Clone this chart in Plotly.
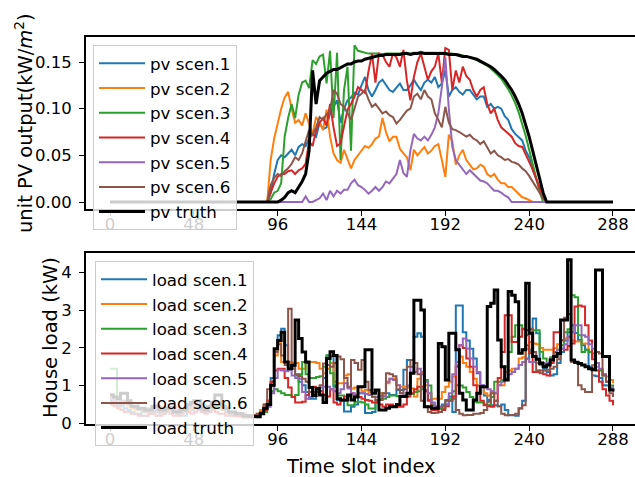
import plotly.graph_objects as go

# ---------------- data ----------------
SLOTS = list(range(0, 289, 2))          # time slot index (every 2nd slot)
X_TICKS = [0, 48, 96, 144, 192, 240, 288]
PV_TICKS = [0.0, 0.05, 0.10, 0.15]
PV_TICK_TEXT = ["0.00", "0.05", "0.10", "0.15"]
LOAD_TICKS = [0, 1, 2, 3, 4]

# PV daytime readings (kW/m2); start slot given, zero at night
pv1_start = 90
pv1_day = [0.0, 0.01, 0.03, 0.045, 0.05, 0.048, 0.052, 0.056, 0.05, 0.059, 0.062, 0.06,
           0.068, 0.073, 0.07, 0.085, 0.078, 0.08, 0.095, 0.102, 0.109, 0.085, 0.1, 0.109,
           0.112, 0.117, 0.115, 0.125, 0.134, 0.12, 0.113, 0.12, 0.128, 0.131, 0.125, 0.12,
           0.118, 0.123, 0.127, 0.12, 0.12, 0.125, 0.131, 0.125, 0.12, 0.128, 0.131, 0.128,
           0.134, 0.123, 0.127, 0.141, 0.113, 0.12, 0.123, 0.118, 0.115, 0.12, 0.12, 0.115,
           0.11, 0.113, 0.113, 0.102, 0.105, 0.1, 0.102, 0.1, 0.092, 0.088, 0.078, 0.073,
           0.07, 0.066, 0.055, 0.048, 0.035, 0.026, 0.015, 0.005, 0.0]
pv2_start = 90
pv2_day = [0.0, 0.045, 0.068, 0.084, 0.1, 0.112, 0.118, 0.1, 0.085, 0.088, 0.082, 0.095,
           0.085, 0.073, 0.091, 0.085, 0.077, 0.099, 0.07, 0.052, 0.045, 0.042, 0.056, 0.045,
           0.036, 0.045, 0.05, 0.055, 0.06, 0.058, 0.062, 0.068, 0.07, 0.09, 0.075, 0.065,
           0.07, 0.07, 0.057, 0.052, 0.048, 0.034, 0.056, 0.05, 0.055, 0.059, 0.052, 0.055,
           0.06, 0.062, 0.045, 0.027, 0.072, 0.065, 0.04, 0.05, 0.056, 0.045, 0.04, 0.035,
           0.036, 0.04, 0.038, 0.03, 0.027, 0.03, 0.024, 0.02, 0.02, 0.016, 0.016, 0.012,
           0.008, 0.005, 0.004, 0.002, 0.0]
pv3_start = 92
pv3_day = [0.003, 0.01, 0.012, 0.02, 0.07, 0.09, 0.105, 0.09, 0.115, 0.128, 0.13, 0.122,
           0.152, 0.148, 0.156, 0.158, 0.127, 0.162, 0.09, 0.16, 0.045, 0.12, 0.145, 0.055,
           0.168, 0.162, 0.161, 0.16, 0.159, 0.159, 0.159, 0.159, 0.158, 0.159, 0.159, 0.159,
           0.159, 0.159, 0.16, 0.16, 0.159, 0.16, 0.16, 0.161, 0.16, 0.16, 0.16, 0.16,
           0.16, 0.16, 0.16, 0.159, 0.159, 0.158, 0.158, 0.157, 0.156, 0.155, 0.154, 0.152,
           0.15, 0.148, 0.146, 0.143, 0.14, 0.136, 0.132, 0.127, 0.121, 0.114, 0.106, 0.096,
           0.084, 0.071, 0.056, 0.041, 0.026, 0.011, 0.0]
pv4_start = 90
pv4_day = [0.0, 0.01, 0.02, 0.027, 0.03, 0.03, 0.033, 0.034, 0.03, 0.034, 0.036, 0.041,
           0.065, 0.06, 0.077, 0.085, 0.09, 0.082, 0.105, 0.08, 0.06, 0.063, 0.08, 0.099,
           0.105, 0.113, 0.123, 0.12, 0.117, 0.14, 0.159, 0.128, 0.159, 0.158, 0.15, 0.145,
           0.159, 0.155, 0.145, 0.163, 0.13, 0.109, 0.134, 0.15, 0.159, 0.145, 0.131, 0.14,
           0.145, 0.159, 0.128, 0.165, 0.163, 0.12, 0.141, 0.128, 0.145, 0.135, 0.131, 0.12,
           0.113, 0.12, 0.123, 0.105, 0.095, 0.1, 0.088, 0.08, 0.077, 0.073, 0.07, 0.063,
           0.06, 0.059, 0.05, 0.043, 0.035, 0.025, 0.015, 0.005, 0.0]
pv5_start = 110
pv5_day = [0.0, 0.006, 0.0, 0.0, 0.002, 0.004, 0.009, 0.002, 0.012, 0.006, 0.012, 0.009,
           0.013, 0.013, 0.02, 0.024, 0.018, 0.016, 0.013, 0.009, 0.012, 0.016, 0.012, 0.016,
           0.022, 0.02, 0.025, 0.03, 0.045, 0.031, 0.027, 0.055, 0.073, 0.068, 0.066, 0.07,
           0.066, 0.072, 0.08, 0.095, 0.123, 0.155, 0.1, 0.059, 0.045, 0.04, 0.036, 0.03,
           0.034, 0.03, 0.026, 0.023, 0.022, 0.02, 0.016, 0.012, 0.012, 0.01, 0.007, 0.005, 0.0]
pv6_start = 90
pv6_day = [0.0, 0.018, 0.026, 0.03, 0.028, 0.033, 0.036, 0.041, 0.048, 0.045, 0.052, 0.065,
           0.077, 0.072, 0.08, 0.091, 0.088, 0.094, 0.098, 0.12, 0.116, 0.105, 0.102, 0.095,
           0.088, 0.1, 0.113, 0.116, 0.12, 0.11, 0.102, 0.105, 0.1, 0.095, 0.097, 0.093,
           0.091, 0.084, 0.088, 0.093, 0.098, 0.1, 0.113, 0.116, 0.11, 0.12, 0.113, 0.11,
           0.095, 0.088, 0.08, 0.102, 0.085, 0.078, 0.077, 0.075, 0.072, 0.07, 0.072, 0.068,
           0.066, 0.062, 0.065, 0.058, 0.052, 0.055, 0.05, 0.048, 0.045, 0.046, 0.043, 0.042,
           0.04, 0.036, 0.033, 0.028, 0.022, 0.017, 0.011, 0.004, 0.0]
pv_truth_start = 98
pv_truth_day = [0.002, 0.005, 0.01, 0.012, 0.01, 0.016, 0.022, 0.03, 0.055, 0.141, 0.105, 0.13,
                0.134, 0.138, 0.14, 0.142, 0.142, 0.144, 0.146, 0.148, 0.148, 0.15, 0.151, 0.151,
                0.153, 0.154, 0.155, 0.156, 0.157, 0.157, 0.158, 0.158, 0.158, 0.158, 0.158, 0.159,
                0.159, 0.158, 0.159, 0.159, 0.16, 0.159, 0.159, 0.159, 0.159, 0.159, 0.159, 0.159,
                0.158, 0.158, 0.158, 0.157, 0.156, 0.156, 0.155, 0.154, 0.153, 0.151, 0.149, 0.147,
                0.145, 0.142, 0.139, 0.135, 0.131, 0.126, 0.12, 0.113, 0.105, 0.095, 0.083, 0.07,
                0.055, 0.04, 0.025, 0.01, 0.0]

# House load readings (kW), slots 0..288 every 2 slots
load1 = [0.6, 0.55, 0.5, 0.45, 0.4, 0.35, 0.3, 0.25, 0.25, 0.2, 0.2, 0.25,
         0.3, 0.3, 0.25, 0.25, 0.3, 0.35, 0.3, 0.25, 0.2, 0.2, 0.3, 0.35,
         0.4, 0.45, 0.35, 0.3, 0.3, 0.35, 0.4, 0.5, 0.35, 0.3, 0.25, 0.2,
         0.2, 0.2, 0.18, 0.18, 0.2, 0.2,
         0.2, 0.3, 0.45, 0.6, 1.2, 1.89, 2.34, 2.51, 2.07, 1.54, 1.5, 1.27,
         1.1, 1.01, 0.83, 0.65, 0.65, 0.83, 0.85, 1.2, 1.8, 1.77, 0.97, 0.62,
         0.62, 0.31, 0.31, 0.44, 0.5, 0.8, 0.8, 0.27, 0.27, 0.3, 0.62, 0.62,
         0.8, 0.8, 0.75, 0.75, 0.88, 0.88, 1.42, 1.68, 1.68, 2.3, 2.39, 2.3,
         0.88, 0.62, 0.5, 0.35, 0.4, 0.5, 0.6, 0.71, 0.3, 3.13, 3.13, 2.42,
         2.2, 1.98, 1.72, 1.33, 1.01, 0.74, 0.62, 0.48, 0.48, 0.45, 0.5, 0.35,
         0.21, 0.21, 0.2, 0.39, 0.6, 1.72, 1.95, 2.78, 2.39, 1.63, 1.45, 1.36,
         1.27, 1.3, 1.6, 1.89, 2.2, 2.42, 2.6, 2.4, 2.21, 2.07, 1.95, 1.5,
         1.27, 1.25, 1.2, 1.01, 1.0, 0.92, 0.83]
load2 = [0.7, 0.6, 0.55, 0.5, 0.5, 0.45, 0.4, 0.35, 0.35, 0.4, 0.4, 0.35,
         0.35, 0.4, 0.45, 0.4, 0.35, 0.35, 0.4, 0.45, 0.4, 0.35, 0.35, 0.4,
         0.45, 0.5, 0.45, 0.4, 0.4, 0.45, 0.5, 0.45, 0.4, 0.35, 0.3, 0.3,
         0.25, 0.25, 0.25, 0.22, 0.22, 0.22,
         0.25, 0.35, 0.5, 0.6, 1.1, 1.8, 2.16, 1.63, 1.63, 1.63, 1.6, 1.6,
         1.45, 1.45, 1.6, 1.63, 1.63, 1.6, 1.45, 1.33, 1.45, 1.6, 1.1, 1.06,
         1.06, 1.27, 1.3, 0.92, 0.95, 0.97, 0.85, 0.88, 0.83, 0.88, 0.88, 0.8,
         0.74, 1.06, 1.18, 1.18, 1.01, 0.97, 0.97, 0.95, 0.92, 0.71, 1.18, 1.36,
         1.01, 0.8, 0.65, 0.65, 0.65, 0.83, 0.97, 1.1, 1.24, 1.54, 1.77, 1.6,
         1.5, 1.36, 1.18, 1.0, 0.97, 0.8, 0.74, 0.8, 0.8, 1.01, 1.01, 1.36,
         1.4, 1.45, 1.45, 1.72, 1.75, 1.98, 2.16, 2.12, 2.1, 2.0, 1.95, 1.95,
         1.95, 2.0, 2.1, 2.21, 2.25, 2.3, 2.2, 2.17, 2.17, 2.12, 2.12, 1.9,
         1.77, 1.5, 1.42, 1.3, 1.24, 1.15, 1.06]
load3 = [1.45, 1.45, 0.7, 0.6, 0.55, 0.5, 0.45, 0.4, 0.35, 0.3, 0.3, 0.35,
         0.4, 0.35, 0.3, 0.3, 0.35, 0.4, 0.35, 0.3, 0.3, 0.35, 0.4, 0.45,
         0.5, 0.45, 0.4, 0.35, 0.35, 0.4, 0.45, 0.4, 0.35, 0.3, 0.25, 0.25,
         0.22, 0.2, 0.2, 0.2, 0.2, 0.2,
         0.2, 0.25, 0.3, 0.55, 0.85, 0.9, 0.85, 0.8, 0.75, 0.75, 0.7, 0.75,
         1.3, 1.63, 1.3, 1.2, 1.2, 1.23, 1.25, 1.5, 1.8, 1.33, 1.0, 0.74,
         0.74, 0.6, 0.48, 0.48, 0.57, 0.57, 0.55, 0.5, 0.39, 0.39, 0.6, 0.65,
         0.65, 0.7, 0.74, 0.74, 0.72, 0.72, 0.74, 0.8, 0.78, 0.83, 0.85, 0.9,
         1.15, 1.0, 0.48, 0.45, 0.39, 0.39, 0.5, 0.65, 0.85, 1.01, 1.0, 0.95,
         0.83, 0.7, 0.57, 0.55, 0.55, 0.5, 0.48, 0.7, 1.1, 1.1, 1.15, 1.5,
         1.89, 2.3, 2.6, 2.6, 2.5, 2.07, 1.89, 2.47, 2.47, 1.9, 1.72, 1.6,
         1.75, 1.89, 1.95, 2.07, 2.42, 2.5, 3.4, 3.35, 2.34, 1.89, 1.95, 1.89,
         1.85, 1.6, 1.4, 1.27, 1.1, 1.0, 0.92]
load4 = [0.5, 0.45, 0.4, 0.35, 0.3, 0.3, 0.25, 0.25, 0.2, 0.2, 0.2, 0.25,
         0.25, 0.2, 0.2, 0.25, 0.3, 0.25, 0.2, 0.2, 0.25, 0.3, 0.3, 0.25,
         0.3, 0.35, 0.3, 0.25, 0.3, 0.35, 0.3, 0.25, 0.25, 0.2, 0.2, 0.2,
         0.18, 0.18, 0.15, 0.15, 0.15, 0.18,
         0.2, 0.25, 0.35, 0.6, 1.1, 1.4, 1.45, 1.45, 1.2, 0.95, 0.7, 0.55,
         0.55, 0.57, 0.75, 0.83, 0.97, 0.9, 0.85, 0.75, 0.71, 0.9, 0.55, 0.5,
         0.6, 0.71, 0.71, 0.8, 0.75, 0.7, 0.65, 0.62, 0.6, 0.55, 0.55, 0.5,
         0.44, 0.5, 0.5, 0.45, 0.44, 0.44, 0.5, 0.71, 0.8, 0.9, 0.97, 0.97,
         0.85, 0.6, 0.35, 0.35, 0.3, 0.35, 0.45, 0.6, 0.71, 1.5, 2.07, 2.0,
         1.72, 1.5, 1.01, 0.8, 0.6, 0.48, 0.45, 0.44, 0.6, 1.2, 1.89, 2.87,
         2.87, 2.16, 2.16, 2.3, 2.51, 2.48, 1.86, 1.36, 1.36, 1.4, 1.3, 1.27,
         1.6, 2.42, 2.42, 1.98, 1.95, 2.05, 2.12, 3.1, 3.13, 3.1, 2.6, 2.2,
         1.7, 1.4, 1.1, 0.9, 0.74, 0.6, 0.48]
load5 = [0.65, 0.6, 0.55, 0.6, 0.55, 0.5, 0.45, 0.45, 0.4, 0.35, 0.35, 0.4,
         0.45, 0.4, 0.35, 0.35, 0.4, 0.45, 0.4, 0.35, 0.35, 0.4, 0.45, 0.5,
         0.55, 0.5, 0.45, 0.4, 0.45, 0.5, 0.55, 0.5, 0.4, 0.35, 0.3, 0.3,
         0.28, 0.25, 0.25, 0.22, 0.22, 0.2,
         0.2, 0.3, 0.4, 0.44, 0.8, 1.2, 1.42, 1.4, 1.38, 1.42, 1.27, 1.2,
         1.18, 0.83, 0.65, 0.7, 0.8, 0.92, 0.95, 0.97, 0.97, 0.9, 0.85, 0.8,
         0.9, 1.06, 0.92, 0.8, 0.74, 0.8, 0.8, 0.78, 0.75, 0.71, 0.7, 0.72,
         0.72, 1.1, 1.18, 1.15, 1.01, 0.8, 0.74, 1.0, 1.5, 1.36, 1.45, 1.3,
         1.1, 0.8, 0.55, 0.44, 0.44, 0.45, 0.5, 0.8, 1.3, 1.63, 2.07, 2.25,
         1.98, 1.72, 1.5, 1.36, 1.01, 0.95, 0.9, 0.85, 0.8, 1.01, 1.1, 1.18,
         1.3, 1.36, 1.45, 1.55, 1.63, 1.7, 1.63, 1.63, 1.6, 1.55, 1.5, 1.6,
         1.72, 1.8, 1.95, 1.98, 2.1, 2.3, 2.42, 2.6, 2.6, 2.34, 2.3, 2.1,
         1.98, 1.6, 1.45, 1.3, 1.1, 0.95, 0.83]
load6 = [0.55, 0.5, 0.45, 0.5, 0.6, 0.55, 0.45, 0.4, 0.4, 0.35, 0.3, 0.3,
         0.35, 0.35, 0.3, 0.3, 0.3, 0.35, 0.3, 0.25, 0.25, 0.3, 0.4, 0.45,
         0.5, 0.45, 0.35, 0.3, 0.35, 0.45, 0.6, 0.55, 0.35, 0.3, 0.25, 0.25,
         0.25, 0.22, 0.2, 0.2, 0.2, 0.22,
         0.25, 0.3, 0.5, 0.9, 1.0, 1.9, 2.1, 1.8, 1.55, 3.04, 1.45, 1.3,
         1.25, 1.18, 1.1, 0.83, 0.83, 0.9, 1.01, 1.59, 1.55, 1.5, 1.6, 1.77,
         1.7, 1.2, 0.97, 1.68, 1.6, 1.42, 1.68, 1.1, 0.88, 0.7, 0.62, 0.62,
         0.8, 1.33, 1.3, 1.25, 0.9, 0.8, 0.9, 1.5, 1.68, 1.6, 1.3, 0.6,
         0.45, 0.3, 0.27, 0.28, 0.3, 0.45, 0.62, 0.6, 0.65, 0.35, 0.25, 0.21,
         0.22, 0.22, 0.25, 0.25, 0.27, 0.35, 0.57, 0.8, 0.6, 0.45, 0.25, 0.21,
         0.22, 0.22, 0.25, 0.4, 0.48, 2.34, 2.51, 1.89, 1.4, 1.33, 1.4, 1.42,
         1.45, 1.5, 1.7, 2.2, 2.8, 2.9, 1.63, 1.6, 1.01, 0.9, 0.83, 0.83,
         1.54, 1.89, 1.85, 1.27, 1.1, 0.8, 0.7]
load_truth = [0.75, 0.7, 0.65, 0.8, 0.8, 0.6, 0.45, 0.45, 0.4, 0.4, 0.35, 0.35,
              0.45, 0.45, 0.35, 0.35, 0.4, 0.4, 0.3, 0.3, 0.35, 0.35, 0.5, 0.55,
              0.6, 0.6, 0.4, 0.35, 0.45, 0.55, 0.75, 0.75, 0.45, 0.4, 0.3, 0.3,
              0.25, 0.25, 0.2, 0.2, 0.18, 0.18,
              0.17, 0.25, 0.39, 0.5, 1.01, 1.98, 2.2, 2.42, 1.63, 1.45, 1.54, 2.74,
              2.25, 1.89, 1.63, 0.95, 0.74, 0.92, 0.75, 0.55, 1.72, 1.9, 1.8, 0.65,
              0.62, 0.62, 0.75, 0.62, 0.7, 0.97, 0.97, 1.95, 1.95, 0.8, 0.88, 0.35,
              0.35, 0.4, 0.44, 0.44, 0.5, 0.71, 0.71, 0.8, 1.33, 3.27, 3.27, 3.01,
              0.44, 0.44, 0.4, 0.4, 2.12, 2.03, 1.15, 2.39, 2.39, 1.95, 0.8, 0.62,
              0.35, 0.35, 0.62, 0.8, 0.97, 0.97, 3.1, 3.19, 3.54, 2.21, 1.5, 1.15,
              3.5, 3.4, 3.23, 1.86, 1.95, 3.72, 2.39, 1.77, 1.7, 1.59, 1.5, 1.55,
              1.68, 1.77, 1.85, 2.74, 2.74, 4.34, 1.68, 1.62, 1.59, 1.55, 1.5, 1.45,
              1.42, 4.07, 4.07, 1.77, 1.77, 0.88, 0.84]

PV_NAMES = ["pv scen.1", "pv scen.2", "pv scen.3", "pv scen.4", "pv scen.5", "pv scen.6", "pv truth"]
LOAD_NAMES = ["load scen.1", "load scen.2", "load scen.3", "load scen.4", "load scen.5", "load scen.6", "load truth"]
COLORS = ["#1f77b4", "#ff7f0e", "#2ca02c", "#d62728", "#9467bd", "#8c564b", "#000000"]


def full_day(start, vals):
    """place daytime readings on the 2-slot grid; night values are zero"""
    out = [0.0] * (start // 2) + list(vals)
    return (out + [0.0] * (len(SLOTS) - len(out)))[:len(SLOTS)]


pv_series = [full_day(pv1_start, pv1_day), full_day(pv2_start, pv2_day),
             full_day(pv3_start, pv3_day), full_day(pv4_start, pv4_day),
             full_day(pv5_start, pv5_day), full_day(pv6_start, pv6_day),
             full_day(pv_truth_start, pv_truth_day)]
load_series = [load1, load2, load3, load4, load5, load6, load_truth]

FONT = "DejaVu Sans"
W, H = 635, 477

fig = go.Figure()
for i, (name, ys) in enumerate(zip(PV_NAMES, pv_series)):
    fig.add_trace(go.Scatter(x=SLOTS, y=ys, mode="lines", name=name,
                             line=dict(color=COLORS[i], width=3 if i == 6 else 2),
                             xaxis="x", yaxis="y", legend="legend"))
for i, (name, ys) in enumerate(zip(LOAD_NAMES, load_series)):
    fig.add_trace(go.Scatter(x=SLOTS[:len(ys)], y=ys, mode="lines", name=name,
                             line=dict(color=COLORS[i], width=3 if i == 6 else 2, shape="hv"),
                             xaxis="x2", yaxis="y2", legend="legend2"))

x0 = 86 / W
xr = [-13.74, 300.6]
axis_common = dict(showline=True, linecolor="black", linewidth=1.8, ticks="outside",
                   ticklen=5, tickwidth=1.3, tickcolor="black", showgrid=False, zeroline=False,
                   automargin=False,
                   tickfont=dict(family=FONT, size=16.5, color="black"))

legend_common = dict(font=dict(family=FONT, size=16.7, color="black"),
                     bgcolor="rgba(255,255,255,0.8)", bordercolor="#cccccc", borderwidth=1,
                     xanchor="left", yanchor="top", itemwidth=46, tracegroupgap=0)

fig.update_layout(
    width=W, height=H, margin=dict(l=0, r=0, t=0, b=0, pad=0, autoexpand=False),
    paper_bgcolor="white", plot_bgcolor="white", showlegend=True,
    xaxis=dict(domain=[x0, 1], range=xr, anchor="y", tickvals=X_TICKS, mirror=True,
               ticklabelstandoff=-6, **axis_common),
    yaxis=dict(domain=[1 - 209 / H, 1 - 37 / H], range=[-0.0075, 0.1768], anchor="x",
               tickvals=PV_TICKS, ticktext=PV_TICK_TEXT, ticklabelstandoff=4, **axis_common),
    xaxis2=dict(domain=[x0, 1], range=xr, anchor="y2", tickvals=X_TICKS, mirror=True,
                ticklabelstandoff=-6, **axis_common),
    yaxis2=dict(domain=[1 - 424 / H, 1 - 252.7 / H], range=[-0.02, 4.53], anchor="x2",
                tickvals=LOAD_TICKS, ticklabelstandoff=4, **axis_common),
    legend=dict(x=93 / W, y=1 - 45 / H, **legend_common),
    legend2=dict(x=95 / W, y=1 - 261 / H, **legend_common),
    annotations=[
        dict(text="unit PV output(kW/<i>m</i><sup>2</sup>)", xref="paper", yref="paper",
             x=24 / W, y=1 - 123 / H, textangle=-90, showarrow=False,
             xanchor="center", yanchor="middle", font=dict(family=FONT, size=19.5, color="black")),
        dict(text="House load (kW)", xref="paper", yref="paper",
             x=50 / W, y=1 - 338 / H, textangle=-90, showarrow=False,
             xanchor="center", yanchor="middle", font=dict(family=FONT, size=19.5, color="black")),
        dict(text="Time slot index", xref="paper", yref="paper",
             x=361 / W, y=1 - 466 / H, showarrow=False,
             xanchor="center", yanchor="middle", font=dict(family=FONT, size=19.5, color="black")),
    ],
)

fig.write_html("out.html")
